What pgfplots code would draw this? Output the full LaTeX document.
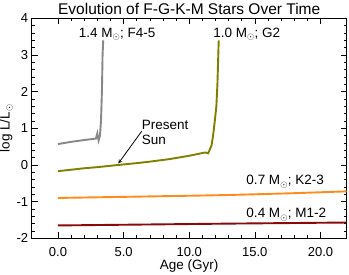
\documentclass[border=0pt]{standalone}
\usepackage{pgfplots}
\pgfplotsset{compat=1.18}
\usepackage{fontspec}
\setmainfont{Liberation Sans}
\definecolor{cgray}{RGB}{136,136,136}
\definecolor{colive}{RGB}{128,128,0}
\definecolor{corange}{RGB}{255,140,26}
\definecolor{cdred}{RGB}{139,8,8}
\begin{document}
\begin{tikzpicture}
\begin{axis}[name=ax,
  scale only axis, width=315pt, height=220pt,
  xmin=-2, xmax=22, ymin=-2, ymax=4,
  xtick={0,5,10,15,20}, ytick={-2,-1,0,1,2,3,4},
  minor x tick num=4, minor y tick num=4,
  tick align=inside, major tick length=6pt, minor tick length=3pt,
  tick style={black, line width=0.6pt},
  axis line style={line width=0.7pt},
  /pgf/number format/assume math mode=true,
  ticklabel style={font=\fontsize{13}{15}\selectfont},
  xticklabel style={yshift=-6pt, /pgf/number format/.cd, fixed, fixed zerofill, precision=1},
  title={Evolution of F-G-K-M Stars Over Time},
  title style={font=\fontsize{15.5}{17}\selectfont, yshift=-6pt},
  xlabel={Age (Gyr)}, ylabel={log L/L$_\odot$},
  label style={font=\fontsize{13.5}{15}\selectfont},
  xlabel style={yshift=4pt}, ylabel style={yshift=-3pt},
  clip=false,
]
\addplot[cgray, line width=1.9pt] coordinates {
(0,0.57) (1,0.63) (2,0.68) (2.9,0.72) (3.0,0.86) (3.1,0.67) (3.2,0.8) (3.28,1.2) (3.35,2.0) (3.4,3.0) (3.45,3.4)};
\addplot[colive, line width=1.9pt] coordinates {
(0,-0.17) (1,-0.13) (2,-0.09) (3,-0.06) (4.6,0.0) (6,0.05) (7,0.09) (8.5,0.16) (10,0.25) (11.2,0.34) (11.45,0.32) (11.7,0.53) (11.82,0.8) (11.95,1.2) (12.07,1.6) (12.15,2.2) (12.2,2.8) (12.25,3.4)};
\addplot[corange, line width=1.9pt] coordinates {
(0,-0.9) (5,-0.87) (10,-0.84) (13,-0.82) (18,-0.77) (22,-0.72)};
\addplot[cdred, line width=1.9pt] coordinates {
(0,-1.65) (13,-1.6) (22,-1.57)};
\begin{scope}[every node/.style={font=\fontsize{13.5}{15}\selectfont, inner sep=0pt}]
\node[anchor=base west] at (axis cs:1.57,3.47) {1.4 M$_\odot$; F4-5};
\node[anchor=base west] at (axis cs:11.82,3.47) {1.0 M$_\odot$; G2};
\node[anchor=base west] at (axis cs:6.38,0.96) {Present};
\node[anchor=base west] at (axis cs:6.38,0.545) {Sun};
\node[anchor=base west] at (axis cs:14.35,-0.545) {0.7 M$_\odot$; K2-3};
\node[anchor=base west] at (axis cs:14.35,-1.445) {0.4 M$_\odot$; M1-2};
\end{scope}
\draw[-stealth, line width=0.8pt] (axis cs:6.38,0.92) -- (axis cs:4.6,0.04);
\end{axis}
\pgfresetboundingbox
\path ([xshift=-31.7pt,yshift=-36.7pt]ax.south west) rectangle ([xshift=2.3pt,yshift=18.3pt]ax.north east);
\end{tikzpicture}
\end{document}
